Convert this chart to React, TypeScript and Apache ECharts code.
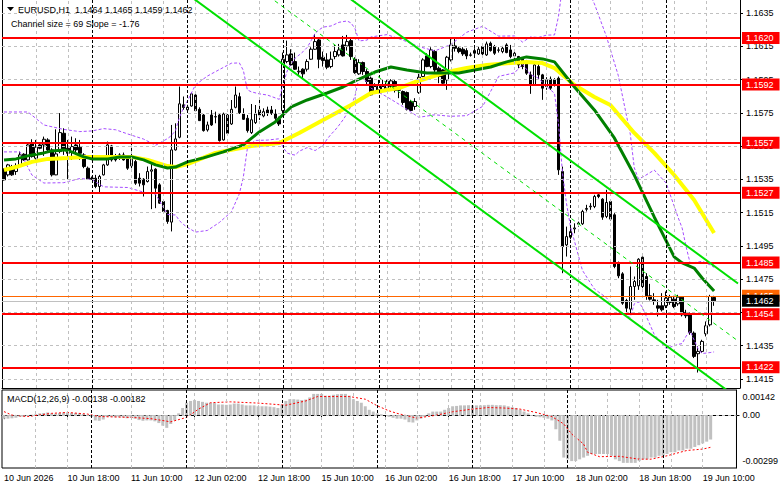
import React, { useEffect, useRef } from 'react';
import * as echarts from 'echarts';

const FONT = '"Liberation Sans", Arial, sans-serif';
const SLOTS = 185;
const categories = Array.from({ length: SLOTS }, (_, i) => String(i));

// time labels: [bar index, text]
const timeLabels: [number, string][] = [
  [0, '10 Jun 2026'], [16, '10 Jun 18:00'], [32, '11 Jun 10:00'], [48, '12 Jun 02:00'],
  [64, '12 Jun 18:00'], [80, '15 Jun 10:00'], [96, '16 Jun 02:00'], [112, '16 Jun 18:00'],
  [128, '17 Jun 10:00'], [144, '18 Jun 02:00'], [160, '18 Jun 18:00'], [176, '19 Jun 10:00'],
];
const gridBars = [8, 16, 32, 40, 48, 56, 64, 72, 80, 88, 96, 104, 112, 120, 128, 136, 144, 152, 160, 168, 176];
const daySeparators = [22, 46, 70, 94, 118, 142, 166];

const priceTicks = [1.1415, 1.1435, 1.1455, 1.1475, 1.1495, 1.1515, 1.1535, 1.1555, 1.1575, 1.1595, 1.1615, 1.1635];
const redLevels = [1.162, 1.1592, 1.1557, 1.1527, 1.1485, 1.1454, 1.1422];
const askLevel = 1.1465;
const macdTicks = [0.00142, 0, -0.00299];

// [open, high, low, close]
const ohlc: number[][] = [
  [1.15407, 1.15417, 1.15343, 1.15347], [1.15377, 1.15443, 1.15367, 1.15437], [1.15427, 1.15437, 1.15371, 1.15377],
  [1.15397, 1.15447, 1.15377, 1.15431], [1.15437, 1.15517, 1.15431, 1.15497], [1.15501, 1.15507, 1.15461, 1.15467],
  [1.15467, 1.15567, 1.15463, 1.15557], [1.15567, 1.15591, 1.15481, 1.15487], [1.15477, 1.15587, 1.15467, 1.15543],
  [1.15557, 1.15567, 1.15531, 1.15537], [1.15557, 1.15607, 1.15491, 1.15591], [1.15587, 1.15597, 1.15521, 1.15527],
  [1.15527, 1.15537, 1.15367, 1.15377], [1.15377, 1.15651, 1.15375, 1.15503], [1.15517, 1.15748, 1.15507, 1.15631],
  [1.15627, 1.15657, 1.15497, 1.15527], [1.15537, 1.15587, 1.15351, 1.15507], [1.15517, 1.15607, 1.15467, 1.15547],
  [1.15557, 1.15597, 1.15497, 1.15527], [1.15543, 1.15587, 1.15467, 1.15507], [1.15497, 1.15507, 1.15417, 1.15427],
  [1.15417, 1.15427, 1.15347, 1.15351], [1.15357, 1.15367, 1.15347, 1.15351], [1.15357, 1.15377, 1.15297, 1.15307],
  [1.15307, 1.15377, 1.15263, 1.15367], [1.15377, 1.15443, 1.15373, 1.15437], [1.15437, 1.15577, 1.15431, 1.15557],
  [1.15551, 1.15557, 1.15457, 1.15467], [1.15491, 1.15503, 1.15457, 1.15467], [1.15477, 1.15507, 1.15467, 1.15497],
  [1.15497, 1.15511, 1.15463, 1.15467], [1.15477, 1.15487, 1.15407, 1.15417], [1.15431, 1.15567, 1.15417, 1.15471],
  [1.15457, 1.15467, 1.15317, 1.15327], [1.15357, 1.15387, 1.15307, 1.15327], [1.15351, 1.15357, 1.15247, 1.15317],
  [1.15337, 1.15427, 1.15331, 1.15397], [1.15399, 1.15447, 1.15171, 1.15407], [1.15411, 1.15417, 1.15177, 1.15297],
  [1.15317, 1.15327, 1.15203, 1.15207], [1.15217, 1.15227, 1.15151, 1.15157], [1.15163, 1.15167, 1.15083, 1.15097],
  [1.15093, 1.15677, 1.15037, 1.15527], [1.15527, 1.15687, 1.15523, 1.15593], [1.15603, 1.15908, 1.15597, 1.15804],
  [1.15798, 1.15848, 1.15768, 1.15782], [1.15768, 1.15798, 1.15758, 1.15784], [1.15791, 1.15871, 1.15787, 1.15864],
  [1.15857, 1.15861, 1.15757, 1.15763], [1.15771, 1.15783, 1.15701, 1.15703], [1.15737, 1.15743, 1.15637, 1.15643],
  [1.15647, 1.15697, 1.15637, 1.15677], [1.15737, 1.15767, 1.15671, 1.15677], [1.15727, 1.15757, 1.15687, 1.15725],
  [1.15737, 1.15747, 1.15577, 1.15583], [1.15587, 1.15751, 1.15583, 1.15743], [1.15737, 1.15743, 1.15617, 1.15627],
  [1.15683, 1.15827, 1.15677, 1.15771], [1.15783, 1.15908, 1.15777, 1.15857], [1.15847, 1.15871, 1.15743, 1.15751],
  [1.15743, 1.15777, 1.15707, 1.15711], [1.15717, 1.15737, 1.15631, 1.15643], [1.15631, 1.15803, 1.15623, 1.15708],
  [1.15691, 1.15797, 1.15683, 1.15743], [1.15767, 1.15843, 1.15707, 1.15737], [1.15731, 1.15777, 1.15723, 1.15757],
  [1.15767, 1.15787, 1.15731, 1.15747], [1.15767, 1.15791, 1.15737, 1.15747], [1.15743, 1.15771, 1.15707, 1.15717],
  [1.15711, 1.15727, 1.15671, 1.15683], [1.15763, 1.16112, 1.15747, 1.16072], [1.16058, 1.16184, 1.16048, 1.16098],
  [1.16104, 1.16132, 1.16032, 1.16038], [1.16058, 1.16112, 1.16008, 1.16012], [1.15996, 1.16028, 1.15978, 1.16000],
  [1.16012, 1.16018, 1.15951, 1.15984], [1.16012, 1.16072, 1.15998, 1.16058], [1.16072, 1.16144, 1.16068, 1.16132],
  [1.16132, 1.16224, 1.16128, 1.16178], [1.16188, 1.16198, 1.16018, 1.16072], [1.16084, 1.16118, 1.16028, 1.16064],
  [1.16068, 1.16108, 1.16012, 1.16024], [1.16028, 1.16118, 1.16018, 1.16072], [1.16088, 1.16158, 1.16072, 1.16118],
  [1.16098, 1.16164, 1.16088, 1.16128], [1.16158, 1.16212, 1.16088, 1.16092], [1.16152, 1.16218, 1.16124, 1.16178],
  [1.16184, 1.16198, 1.16068, 1.16088], [1.16072, 1.16084, 1.15984, 1.15992], [1.15984, 1.16072, 1.15978, 1.16052],
  [1.16052, 1.16058, 1.15978, 1.15998], [1.15998, 1.16012, 1.15918, 1.15938], [1.15958, 1.15968, 1.15852, 1.15858],
  [1.15872, 1.15928, 1.15864, 1.15908], [1.15888, 1.15948, 1.15868, 1.15918], [1.15888, 1.15948, 1.15878, 1.15908],
  [1.15898, 1.15948, 1.15888, 1.15938], [1.15908, 1.15952, 1.15888, 1.15942], [1.15938, 1.15948, 1.15872, 1.15884],
  [1.15888, 1.15908, 1.15838, 1.15886], [1.15878, 1.15884, 1.15798, 1.15812], [1.15872, 1.15878, 1.15764, 1.15772],
  [1.15818, 1.15828, 1.15764, 1.15764], [1.15788, 1.15838, 1.15768, 1.15818], [1.15872, 1.15984, 1.15864, 1.15964],
  [1.15968, 1.16078, 1.15964, 1.16068], [1.16092, 1.16108, 1.16024, 1.16028], [1.16028, 1.16144, 1.16018, 1.16128],
  [1.16118, 1.16128, 1.15992, 1.16008], [1.16018, 1.16028, 1.15928, 1.15968], [1.16008, 1.16012, 1.15924, 1.15928],
  [1.15948, 1.16092, 1.15888, 1.16084], [1.16068, 1.16198, 1.16058, 1.16158], [1.16152, 1.16204, 1.16118, 1.16138],
  [1.16138, 1.16148, 1.16108, 1.16118], [1.16132, 1.16144, 1.16092, 1.16104], [1.16124, 1.16138, 1.16072, 1.16092],
  [1.16098, 1.16112, 1.16088, 1.16096], [1.16108, 1.16138, 1.16098, 1.16124], [1.16104, 1.16148, 1.16098, 1.16132],
  [1.16148, 1.16164, 1.16096, 1.16104], [1.16098, 1.16178, 1.16092, 1.16164], [1.16168, 1.16178, 1.16118, 1.16124],
  [1.16148, 1.16158, 1.16098, 1.16108], [1.16128, 1.16144, 1.16112, 1.16126], [1.16118, 1.16152, 1.16108, 1.16138],
  [1.16158, 1.16168, 1.16108, 1.16112], [1.16128, 1.16158, 1.16078, 1.16088], [1.16092, 1.16118, 1.16068, 1.16108],
  [1.16088, 1.16092, 1.16018, 1.16038], [1.16072, 1.16084, 1.16012, 1.16028], [1.16058, 1.16068, 1.15978, 1.15988],
  [1.15978, 1.15998, 1.15864, 1.15918], [1.15918, 1.16048, 1.15912, 1.16038], [1.16028, 1.16052, 1.15948, 1.15978],
  [1.15978, 1.15984, 1.15828, 1.15898], [1.15908, 1.15964, 1.15888, 1.15948], [1.15952, 1.15968, 1.15888, 1.15898],
  [1.15948, 1.15958, 1.15908, 1.15918], [1.15958, 1.15968, 1.15377, 1.15407], [1.15397, 1.15427, 1.14786, 1.14946],
  [1.14956, 1.15066, 1.14886, 1.15006], [1.15002, 1.15066, 1.14990, 1.15036], [1.15052, 1.15086, 1.15026, 1.15058],
  [1.15081, 1.15096, 1.15066, 1.15087], [1.15083, 1.15167, 1.15076, 1.15157], [1.15170, 1.15197, 1.15157, 1.15175],
  [1.15185, 1.15207, 1.15167, 1.15189], [1.15187, 1.15257, 1.15177, 1.15247], [1.15257, 1.15267, 1.15237, 1.15247],
  [1.15231, 1.15237, 1.15107, 1.15123], [1.15127, 1.15287, 1.15117, 1.15211], [1.15217, 1.15227, 1.15103, 1.15111],
  [1.15137, 1.15147, 1.14816, 1.14826], [1.14846, 1.14856, 1.14756, 1.14770], [1.14782, 1.14792, 1.14596, 1.14606],
  [1.14622, 1.14632, 1.14546, 1.14576], [1.14570, 1.14826, 1.14542, 1.14706], [1.14706, 1.14766, 1.14626, 1.14736],
  [1.14710, 1.14876, 1.14686, 1.14870], [1.14882, 1.14886, 1.14696, 1.14706], [1.14766, 1.14786, 1.14626, 1.14650],
  [1.14650, 1.14722, 1.14622, 1.14630], [1.14626, 1.14666, 1.14596, 1.14616], [1.14590, 1.14626, 1.14526, 1.14576],
  [1.14590, 1.14666, 1.14556, 1.14566], [1.14590, 1.14676, 1.14576, 1.14636], [1.14610, 1.14656, 1.14596, 1.14642],
  [1.14630, 1.14650, 1.14576, 1.14586], [1.14602, 1.14656, 1.14590, 1.14642], [1.14642, 1.14646, 1.14526, 1.14536],
  [1.14550, 1.14566, 1.14516, 1.14530], [1.14542, 1.14550, 1.14416, 1.14430], [1.14426, 1.14436, 1.14276, 1.14286],
  [1.14302, 1.14346, 1.14189, 1.14316], [1.14316, 1.14386, 1.14306, 1.14376], [1.14422, 1.14496, 1.14406, 1.14470],
  [1.14476, 1.14656, 1.14466, 1.14646], [1.1464, 1.1465, 1.1459, 1.1462],
];

// moving averages, sampled [bar, price]
const maFast: number[][] = [
  [0, 1.15467], [3, 1.15473], [7, 1.15497], [10, 1.15509], [12, 1.15521], [15, 1.15527], [17, 1.15515], [20, 1.15485],
  [22, 1.15473], [26, 1.15473], [29, 1.15485], [32, 1.15485], [35, 1.15467], [38, 1.15437], [41, 1.15418], [43, 1.15424],
  [46, 1.15455], [50, 1.15479], [55, 1.15515], [60, 1.15557], [64, 1.15635], [68, 1.15695], [72, 1.15785], [76, 1.15827],
  [81, 1.15869], [85, 1.15905], [89, 1.15953], [93, 1.15995], [97, 1.16025], [101, 1.16007], [106, 1.15989], [110, 1.15989],
  [114, 1.15989], [118, 1.16007], [122, 1.16025], [126, 1.16056], [131, 1.16086], [135, 1.16074], [138, 1.16056],
  [143, 1.15905], [148, 1.15767], [153, 1.15599], [158, 1.15376], [163, 1.15124], [168, 1.14884], [170, 1.14848],
  [173, 1.14817], [175, 1.14757], [178, 1.14679],
];
const maSlow: number[][] = [
  [0, 1.15406], [3, 1.15424], [7, 1.15455], [11, 1.15473], [16, 1.15479], [20, 1.15485], [24, 1.15485], [28, 1.15485],
  [32, 1.15485], [36, 1.15467], [41, 1.1543], [43, 1.15424], [46, 1.15442], [53, 1.15509], [62, 1.15551], [69, 1.15569],
  [74, 1.15629], [80, 1.15707], [87, 1.15797], [92, 1.15869], [96, 1.15887], [99, 1.15899], [103, 1.15935], [111, 1.15995],
  [116, 1.16019], [121, 1.16037], [127, 1.16049], [131, 1.16056], [135, 1.16049], [138, 1.16019], [143, 1.15917],
  [148, 1.15845], [152, 1.15797], [158, 1.15629], [163, 1.15509], [168, 1.15376], [173, 1.15226], [178, 1.15028],
];
// Bollinger bands (20, 2), sampled [bar, price]
const bandUpper: number[][] = [
  [0, 1.15755], [6, 1.15755], [10, 1.15677], [15, 1.1565], [19, 1.15637], [22, 1.15641], [25, 1.15655], [28, 1.15648],
  [31, 1.15623], [35, 1.15592], [38, 1.15555], [41, 1.15595], [42, 1.15614], [43, 1.15644], [44, 1.15723], [45, 1.1578],
  [46, 1.15821], [48, 1.15918], [51, 1.15971], [54, 1.1601], [57, 1.16048], [59, 1.1605], [60, 1.16005], [61, 1.15888],
  [62, 1.15876], [64, 1.15864], [66, 1.15857], [69, 1.15831], [70, 1.15926], [71, 1.16002], [72, 1.16046], [73, 1.16079],
  [74, 1.16098], [75, 1.16118], [76, 1.16143], [77, 1.16184], [78, 1.16228], [79, 1.16249], [80, 1.16265], [82, 1.16272],
  [84, 1.16294], [86, 1.16302], [87, 1.1629], [88, 1.16256], [89, 1.16182], [91, 1.16187], [92, 1.16206], [96, 1.1622],
  [100, 1.16187], [104, 1.16148], [108, 1.16122], [112, 1.1616], [116, 1.16234], [120, 1.1627], [124, 1.16211],
  [128, 1.16212], [130, 1.16175], [132, 1.16206], [134, 1.16203], [136, 1.16217], [138, 1.16218], [139, 1.1633],
  [140, 1.16509], [141, 1.16576], [142, 1.16606], [145, 1.16563], [148, 1.16405], [151, 1.1621], [154, 1.15973],
  [157, 1.15621], [158, 1.1542], [159, 1.15355], [160, 1.15362], [163, 1.15406], [166, 1.15327], [169, 1.1512],
  [170, 1.15057], [171, 1.14944], [172, 1.14846], [174, 1.14853], [175, 1.14858], [177, 1.14836], [178, 1.14821],
];
const bandLower: number[][] = [
  [0, 1.15515], [4, 1.15515], [7, 1.15376], [10, 1.15328], [15, 1.1533], [19, 1.15355], [22, 1.15349], [25, 1.15305],
  [28, 1.15303], [31, 1.15301], [35, 1.15273], [38, 1.15261], [41, 1.15139], [42, 1.15137], [43, 1.15136], [44, 1.15101],
  [45, 1.15079], [46, 1.15061], [48, 1.15033], [51, 1.15043], [54, 1.15091], [57, 1.15155], [59, 1.15263], [60, 1.15364],
  [61, 1.15535], [62, 1.15566], [63, 1.15584], [66, 1.15586], [69, 1.15594], [70, 1.15541], [71, 1.15508], [72, 1.155],
  [73, 1.15496], [74, 1.15519], [76, 1.15541], [78, 1.15523], [80, 1.15555], [81, 1.15592], [82, 1.15621], [83, 1.15646],
  [84, 1.15676], [85, 1.15708], [86, 1.15745], [87, 1.15791], [88, 1.15852], [89, 1.15963], [90, 1.15955], [91, 1.15935],
  [92, 1.15898], [96, 1.15846], [100, 1.15787], [104, 1.15723], [108, 1.15738], [112, 1.15729], [116, 1.15733],
  [120, 1.15789], [124, 1.15969], [128, 1.1599], [130, 1.16043], [132, 1.15979], [134, 1.15958], [136, 1.15909],
  [138, 1.15867], [139, 1.15683], [140, 1.15388], [141, 1.15206], [142, 1.15067], [145, 1.14803], [148, 1.14691],
  [151, 1.14639], [154, 1.14553], [157, 1.1452], [158, 1.14602], [159, 1.14614], [160, 1.14582], [163, 1.14418],
  [166, 1.14333], [169, 1.14358], [170, 1.14363], [171, 1.14408], [172, 1.14438], [174, 1.14331], [175, 1.14303],
  [177, 1.14309], [178, 1.14313],
];
// regression channel endpoints [bar, price]
const channelUpper = [[0, 1.17963], [184, 1.14724]];
const channelMiddle = [[0, 1.17618], [184, 1.14379]];
const channelLower = [[0, 1.17273], [184, 1.14034]];
const channelSize = 69;
const channelSlope = -1.76;

// MACD(12,26,9)
const macdMain = [
  -0.0002, -0.0002, -0.00018, -0.00015, -0.0001, -0.0001, -0.00005, 0.00002, 0.00005,
  0.0001, 0.00012, 0.00015, 0.0001, 0.00008, 0.00012, 0.00015, 0.00014, 0.00013, 0.00012, 0.0001, 0.00006, 0.0,
  -0.0001, -0.0003, -0.00032, -0.00025, -0.0001, -0.0001, -0.00012, -0.00012, -0.00013, -0.00018, -0.00015, -0.0002, -0.00028, -0.00032, -0.0003, -0.0003, -0.00035,
  -0.00045, -0.0006, -0.00072, -0.0005, -0.0003,
  0.0001, 0.0004, 0.0007, 0.0008, 0.00085, 0.0008, 0.00075, 0.0007, 0.0007, 0.00068, 0.0006, 0.0006, 0.00058, 0.0006, 0.00065, 0.00065, 0.0006, 0.00055, 0.00055, 0.00055, 0.0005, 0.0005, 0.0005, 0.00048, 0.00045, 0.0004,
  0.0006, 0.0008, 0.0009, 0.0009, 0.00088, 0.00085, 0.00088, 0.001, 0.0012, 0.0012, 0.0012, 0.0011, 0.0011, 0.00115, 0.00118, 0.0012, 0.0012, 0.0011, 0.0009, 0.0008, 0.0007, 0.0005, 0.0003, 0.0002, 0.0001, 0.00005, 0.0,
  -0.0001, -0.00015, -0.0002, -0.0002, -0.00025, -0.0004, -0.00042, -0.0003, -0.0002, -0.0001,
  0.0001, 0.0002, 0.0002, 0.0002, 0.0003, 0.0004, 0.0005, 0.00052, 0.00055, 0.00055,
  0.00056, 0.00055, 0.00055, 0.00055, 0.00056, 0.00058, 0.00058, 0.00056, 0.00056, 0.00055,
  0.0005, 0.00045, 0.0004, 0.0003, 0.0002, 0.0001, 0.0, -0.0001, -0.00012, -0.00015, -0.0002, -0.0003,
  -0.0008, -0.00145, -0.0024, -0.0025, -0.0026, -0.0026, -0.0025, -0.0024, -0.0023, -0.0022,
  -0.0022, -0.0022, -0.0022, -0.0022, -0.0023, -0.0025, -0.0026, -0.0027, -0.0027, -0.0027,
  -0.0027, -0.0026, -0.0025, -0.0025, -0.0024, -0.0024, -0.0023, -0.0023, -0.0022, -0.0021,
  -0.0021, -0.002, -0.002, -0.0019, -0.0019, -0.0018, -0.0017, -0.0016, -0.0015, -0.00138,
];
const macdSignal: number[][] = [
  [0, 0.0002], [2, 0.0], [6, -0.00008], [12, 0.0001], [16, 0.00015], [21, 0.00006], [24, -0.00008], [32, -0.00013],
  [37, -0.0002], [42, -0.00038], [46, -0.00013], [49, 0.00034], [52, 0.0007], [57, 0.00075], [64, 0.00068], [71, 0.00056],
  [76, 0.0008], [79, 0.00105], [87, 0.00105], [91, 0.0009], [94, 0.00053], [97, 0.00024], [99, 0.0001], [104, -0.00017],
  [109, 0.0], [113, 0.00019], [118, 0.00034], [122, 0.00043], [126, 0.0004], [130, 0.00034], [134, 0.00015], [138, -0.00008],
  [141, -0.0005], [143, -0.00107], [146, -0.00164], [147, -0.0021], [150, -0.00235], [155, -0.00233], [160, -0.00249],
  [163, -0.00249], [167, -0.0023], [172, -0.002], [176, -0.00192], [178, -0.00182],
];

const labelMap = new Map<number, string>(timeLabels);
const last = ohlc[ohlc.length - 1];
const lastMacd = macdMain[macdMain.length - 1];
const lastSignal = macdSignal[macdSignal.length - 1][1];

const txt = { fontFamily: FONT, fontSize: 9, color: '#000' };

function buildOption(): any {
  const vLines = (bars: number[]) => bars.map((b) => ({ xAxis: b }));
  const levelLabel = (bg: string) => ({
    show: true, position: 'end', distance: 2, formatter: (p: any) => Number(p.value).toFixed(4),
    backgroundColor: bg, color: '#ffffff', fontFamily: FONT, fontSize: 9, padding: [2, 6, 1, 4],
  });
  return {
    animation: false,
    backgroundColor: '#ffffff',
    grid: [
      { left: 2, top: 0, width: 738, height: 388, show: false },
      { left: 2, top: 390, width: 738, height: 78, show: true, borderColor: '#000', borderWidth: 1, backgroundColor: 'transparent' },
    ],
    xAxis: [
      {
        type: 'category', gridIndex: 0, data: categories, boundaryGap: true,
        axisLine: { show: true, lineStyle: { color: '#000', width: 1 } },
        axisTick: { show: false }, axisLabel: { show: false }, splitLine: { show: false },
      },
      {
        type: 'category', gridIndex: 1, data: categories, boundaryGap: true,
        axisLine: { show: true, lineStyle: { color: '#000', width: 1 } },
        axisTick: { show: true, alignWithLabel: true, length: 4, interval: (i: number) => labelMap.has(i), lineStyle: { color: '#000' } },
        axisLabel: {
          ...txt, margin: 5, align: 'left',
          interval: (i: number) => labelMap.has(i),
          formatter: (_v: string, i: number) => labelMap.get(i) || '',
        },
        splitLine: { show: false },
      },
    ],
    yAxis: [
      {
        type: 'value', gridIndex: 0, position: 'right', min: 1.14096, max: 1.16428,
        axisLine: { show: true, onZero: false, lineStyle: { color: '#000', width: 1 } },
        axisTick: { show: true, length: 3, customValues: priceTicks, lineStyle: { color: '#000' } },
        axisLabel: { ...txt, margin: 6, customValues: priceTicks, formatter: (v: number) => v.toFixed(4) },
        splitLine: { show: false },
      },
      {
        type: 'value', gridIndex: 0, position: 'left', min: 1.14096, max: 1.16428,
        axisLine: { show: true, onZero: false, lineStyle: { color: '#000', width: 1 } },
        axisTick: { show: false }, axisLabel: { show: false }, splitLine: { show: false },
      },
      {
        type: 'value', gridIndex: 1, position: 'right', min: -0.00299, max: 0.00142,
        axisLine: { show: true, onZero: false, lineStyle: { color: '#000', width: 1 } },
        axisTick: { show: true, length: 3, customValues: [0], lineStyle: { color: '#000' } },
        axisLabel: {
          ...txt, margin: 6, customValues: macdTicks,
          formatter: (v: number) => (v > 0.001 ? '{t|' + v.toFixed(5) + '}' : v < -0.002 ? '{b|' + v.toFixed(5) + '}' : '0.00'),
          rich: {
            t: { fontFamily: FONT, fontSize: 9, color: '#000', padding: [14, 0, 0, 0] },
            b: { fontFamily: FONT, fontSize: 9, color: '#000', padding: [0, 0, 14, 0] },
          },
        },
        splitLine: { show: false },
      },
    ],
    series: [
      {
        name: 'grid-main', type: 'line', xAxisIndex: 0, yAxisIndex: 0, data: [], z: 1, silent: true,
        markLine: {
          silent: true, precision: 5, symbol: ['none', 'none'], label: { show: false },
          lineStyle: { color: '#c0c0c0', width: 1, type: [3, 3] },
          data: [...priceTicks.map((v) => ({ yAxis: v })), ...vLines(gridBars)],
        },
      },
      {
        name: 'sep-main', type: 'line', xAxisIndex: 0, yAxisIndex: 0, data: [], z: 1, silent: true,
        markLine: {
          silent: true, precision: 5, symbol: ['none', 'none'], label: { show: false },
          lineStyle: { color: '#000', width: 1, type: [3, 2] },
          data: vLines(daySeparators),
        },
      },
      {
        name: 'EURUSD', type: 'candlestick', xAxisIndex: 0, yAxisIndex: 0, z: 2, barWidth: 3,
        data: ohlc.map(([o, h, l, c]) => [o, c, l, h]),
        itemStyle: { color: '#ffffff', color0: '#000000', borderColor: '#000000', borderColor0: '#000000', borderWidth: 1 },
      },
      {
        name: 'bb-upper', type: 'line', xAxisIndex: 0, yAxisIndex: 0, z: 3, data: bandUpper, symbol: 'none',
        lineStyle: { color: '#a64dff', width: 1, type: [3, 2] },
      },
      {
        name: 'bb-lower', type: 'line', xAxisIndex: 0, yAxisIndex: 0, z: 3, data: bandLower, symbol: 'none',
        lineStyle: { color: '#a64dff', width: 1, type: [3, 2] },
      },
      {
        name: 'ma-slow', type: 'line', xAxisIndex: 0, yAxisIndex: 0, z: 4, data: maSlow, symbol: 'none',
        lineStyle: { color: '#ffff00', width: 4 },
      },
      {
        name: 'ma-fast', type: 'line', xAxisIndex: 0, yAxisIndex: 0, z: 4, data: maFast, symbol: 'none',
        lineStyle: { color: '#008000', width: 3 },
      },
      {
        name: 'ch-upper', type: 'line', xAxisIndex: 0, yAxisIndex: 0, z: 5, data: channelUpper, symbol: 'none',
        lineStyle: { color: '#00e000', width: 2 },
      },
      {
        name: 'ch-lower', type: 'line', xAxisIndex: 0, yAxisIndex: 0, z: 5, data: channelLower, symbol: 'none',
        lineStyle: { color: '#00e000', width: 2 },
      },
      {
        name: 'ch-middle', type: 'line', xAxisIndex: 0, yAxisIndex: 0, z: 5, data: channelMiddle, symbol: 'none',
        lineStyle: { color: '#00e000', width: 1, type: [4, 4] },
      },
      {
        name: 'levels', type: 'line', xAxisIndex: 0, yAxisIndex: 0, data: [], z: 6, silent: true,
        markLine: {
          silent: true, precision: 5, symbol: ['none', 'none'],
          lineStyle: { color: '#ff0000', width: 2, type: 'solid' },
          label: levelLabel('#ff0000'),
          data: redLevels.map((v) => ({ yAxis: v })),
        },
      },
      {
        name: 'ask', type: 'line', xAxisIndex: 0, yAxisIndex: 0, data: [], z: 7, silent: true,
        markLine: {
          silent: true, precision: 5, symbol: ['none', 'none'],
          lineStyle: { color: '#ff6600', width: 1, type: 'solid' },
          label: levelLabel('#ff6600'),
          data: [{ yAxis: askLevel }],
        },
      },
      {
        name: 'bid', type: 'line', xAxisIndex: 0, yAxisIndex: 0, data: [], z: 8, silent: true,
        markLine: {
          silent: true, precision: 5, symbol: ['none', 'none'],
          lineStyle: { color: '#c0c0c0', width: 1, type: 'solid' },
          label: levelLabel('#000000'),
          data: [{ yAxis: last[3] }],
        },
      },
      {
        name: 'grid-macd', type: 'line', xAxisIndex: 1, yAxisIndex: 2, data: [], z: 1, silent: true,
        markLine: {
          silent: true, precision: 6, symbol: ['none', 'none'], label: { show: false },
          lineStyle: { color: '#c0c0c0', width: 1, type: [3, 3] },
          data: [{ yAxis: 0 }, ...vLines(gridBars)],
        },
      },
      {
        name: 'sep-macd', type: 'line', xAxisIndex: 1, yAxisIndex: 2, data: [], z: 1, silent: true,
        markLine: {
          silent: true, precision: 6, symbol: ['none', 'none'], label: { show: false },
          lineStyle: { color: '#000', width: 1, type: [3, 2] },
          data: vLines(daySeparators),
        },
      },
      {
        name: 'MACD', type: 'bar', xAxisIndex: 1, yAxisIndex: 2, z: 2, data: macdMain, barWidth: 3,
        itemStyle: { color: '#c0c0c0' },
      },
      {
        name: 'Signal', type: 'line', xAxisIndex: 1, yAxisIndex: 2, z: 3, data: macdSignal, symbol: 'none',
        lineStyle: { color: '#ff0000', width: 1, type: [2, 2] },
      },
    ],
    graphic: [
      { type: 'polygon', shape: { points: [[7, 7], [14, 7], [10.5, 11]] }, style: { fill: '#000' }, z: 100 },
      {
        type: 'text', x: 18, y: 10, z: 100,
        style: {
          text: `EURUSD,H1  ${last[0].toFixed(4)} ${last[1].toFixed(4)} ${last[2].toFixed(4)} ${last[3].toFixed(4)}`,
          fontFamily: FONT, fontSize: 9, fill: '#000', verticalAlign: 'middle',
        },
      },
      {
        type: 'text', x: 11, y: 24, z: 100,
        style: { text: `Channel size = ${channelSize} Slope = ${channelSlope.toFixed(2)}`, fontFamily: FONT, fontSize: 9, fill: '#000', verticalAlign: 'middle' },
      },
      {
        type: 'text', x: 7, y: 399, z: 100,
        style: { text: `MACD(12,26,9) ${lastMacd.toFixed(5)} ${lastSignal.toFixed(5)}`, fontFamily: FONT, fontSize: 9, fill: '#000', verticalAlign: 'middle' },
      },
    ],
  };
}

export default function App() {
  const ref = useRef<HTMLDivElement>(null);
  useEffect(() => {
    if (!ref.current) return;
    const chart = echarts.init(ref.current, null, { renderer: 'svg' });
    chart.setOption(buildOption());
    return () => chart.dispose();
  }, []);
  return (
    <div
      ref={ref}
      style={{ position: 'fixed', left: 0, top: 0, width: 781, height: 489, background: '#ffffff' }}
    />
  );
}
